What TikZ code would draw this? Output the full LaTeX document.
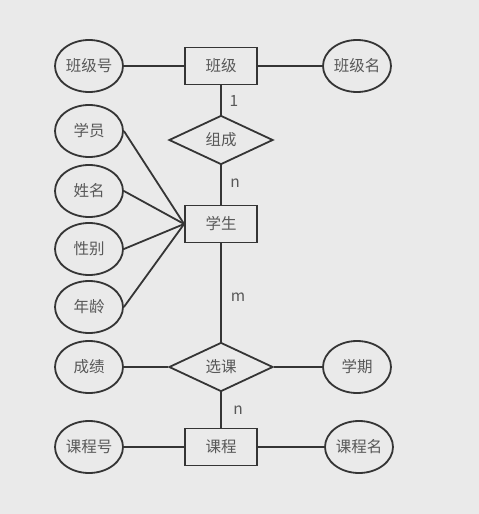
\documentclass[tikz,border=0pt]{standalone}
\usepackage{fontspec}
\setmainfont{Noto Sans CJK SC}
\usetikzlibrary{shapes.geometric}
\definecolor{bgray}{HTML}{EAEAEA}
\definecolor{lgray}{HTML}{353535}
\definecolor{tgray}{HTML}{585858}

\begin{document}
\begin{tikzpicture}[x=1pt,y=-1pt,
  every node/.style={text=tgray,font=\fontsize{15.5}{18}\selectfont},
  entity/.style={draw=lgray,line width=1.8pt,rectangle,minimum width=72pt,minimum height=37pt,inner sep=0pt},
  attr/.style={draw=lgray,line width=1.8pt,ellipse,minimum width=68pt,minimum height=52pt,inner sep=0pt},
  rel/.style={draw=lgray,line width=1.8pt,diamond,aspect=2.1,minimum width=104pt,minimum height=49pt,inner sep=0pt},
  link/.style={draw=lgray,line width=1.8pt}]
  \fill[bgray] (0,0) rectangle (479,514);
  \useasboundingbox (0,0) rectangle (479,514);
  \node[entity] (banji)   at (221, 66) {班级};
  \node[attr]   (banjihao) at ( 89, 66) {班级号};
  \node[attr]   (banjiming) at (357, 66) {班级名};
  \node[rel]    (zucheng) at (221,140) {组成};
  \node[entity] (xuesheng) at (221,224) {学生};
  \node[attr]   (xueyuan) at ( 89,131) {学员};
  \node[attr]   (xingming) at ( 89,191) {姓名};
  \node[attr]   (xingbie) at ( 89,249) {性别};
  \node[attr]   (nianling) at ( 89,307) {年龄};
  \node[rel]    (xuanke)  at (221,367) {选课};
  \node[attr]   (chengji) at ( 89,367) {成绩};
  \node[attr]   (xueqi)   at (357,367) {学期};
  \node[entity] (kecheng) at (221,447) {课程};
  \node[attr]   (kechenghao) at ( 89,447) {课程号};
  \node[attr]   (kechengming) at (359,447) {课程名};
  \draw[link] (banjihao) -- (banji);
  \draw[link] (banji) -- (banjiming);
  \draw[link] (banji) -- (zucheng);
  \draw[link] (zucheng) -- (xuesheng);
  \draw[link] (xueyuan.east) -- (xuesheng.west);
  \draw[link] (xingming.east) -- (xuesheng.west);
  \draw[link] (xingbie.east) -- (xuesheng.west);
  \draw[link] (nianling.east) -- (xuesheng.west);
  \draw[link] (xuesheng) -- (xuanke);
  \draw[link] (chengji) -- (xuanke);
  \draw[link] (xuanke) -- (xueqi);
  \draw[link] (xuanke) -- (kecheng);
  \draw[link] (kechenghao) -- (kecheng);
  \draw[link] (kecheng) -- (kechengming);
  \node (one)  at (234,101) {1};
  \node (nzc)  at (235,183) {n};
  \node (mxk)  at (238,297) {m};
  \node (nxk)  at (238,410) {n};
\end{tikzpicture}
\end{document}
